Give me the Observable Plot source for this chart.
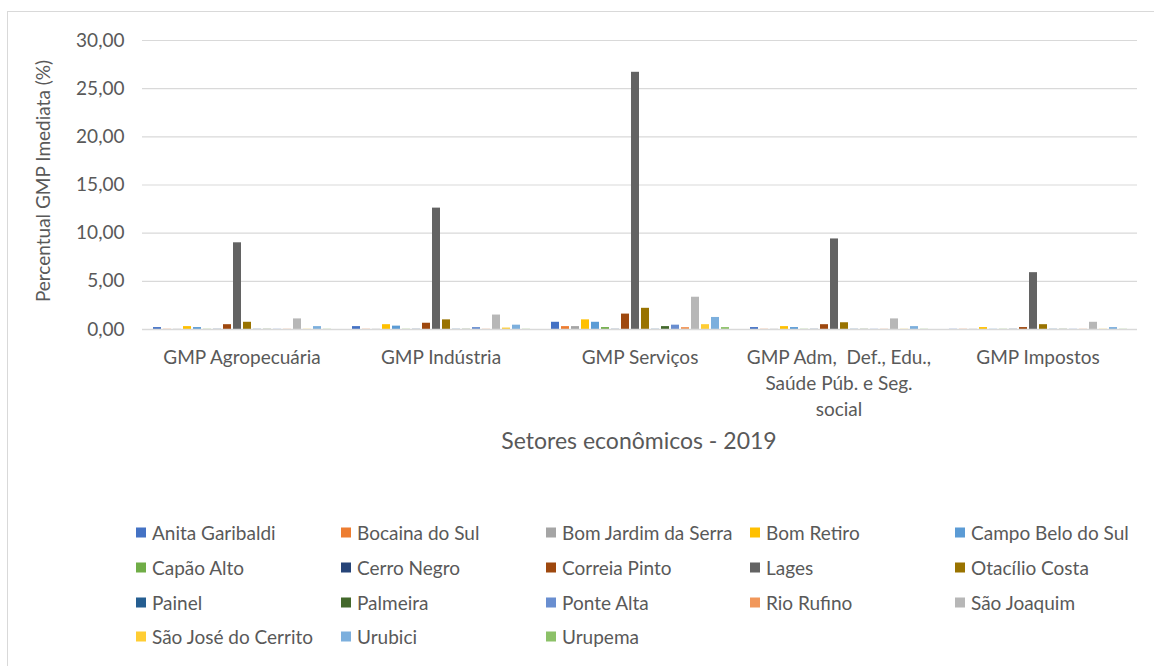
<!DOCTYPE html>
<html>
<head>
<meta charset="utf-8">
<script src="https://cdn.jsdelivr.net/npm/d3@7"></script>
<script src="https://cdn.jsdelivr.net/npm/@observablehq/plot@0.6"></script>
<style>
  html, body { margin: 0; padding: 0; background: #fff; overflow: hidden; }
  body { width: 1154px; height: 666px; position: relative; font-family: Lato, "Open Sans", sans-serif; color: #595959; }
  #frame { position: absolute; left: 7px; top: 11px; width: 1200px; height: 700px; border: 1.5px solid #d9d9d9; box-sizing: border-box; }
  #chart { position: absolute; left: 0; top: 0; }
  #ytitle { position: absolute; left: 42px; top: 181px; transform: translate(-50%, -50%) rotate(-90deg); white-space: nowrap; font-size: 19px; }
  #xtitle { position: absolute; left: 639px; top: 440px; transform: translate(-50%, -50%); white-space: nowrap; font-size: 23px; }
  #legend { position: absolute; left: 0; top: 0; }
  .li { position: absolute; display: flex; align-items: center; font-size: 19px; white-space: nowrap; transform: translateY(-50%); }
  .sw { width: 10px; height: 10px; margin-right: 6px; display: inline-block; }
</style>
</head>
<body>
<div id="frame"></div>
<div id="chart"></div>
<div id="ytitle">Percentual GMP Imediata (%)</div>
<div id="xtitle">Setores econômicos - 2019</div>
<div id="legend"></div>
<script>
const sectors = ["GMP Agropecuária", "GMP Indústria", "GMP Serviços", "GMP Adm,  Def., Edu., Saúde Púb. e Seg. social", "GMP Impostos"];
const sectorLabels = ["GMP Agropecuária", "GMP Indústria", "GMP Serviços", "GMP Adm,  Def., Edu.,\nSaúde Púb. e Seg.\nsocial", "GMP Impostos"];
const municipalities = ["Anita Garibaldi", "Bocaina do Sul", "Bom Jardim da Serra", "Bom Retiro", "Campo Belo do Sul",
  "Capão Alto", "Cerro Negro", "Correia Pinto", "Lages", "Otacílio Costa",
  "Painel", "Palmeira", "Ponte Alta", "Rio Rufino", "São Joaquim",
  "São José do Cerrito", "Urubici", "Urupema"];
const colors = ["#4472C4", "#ED7D31", "#A5A5A5", "#FFC000", "#5B9BD5",
  "#70AD47", "#264478", "#9E480E", "#636363", "#997300",
  "#255E91", "#43682B", "#698ED0", "#F1975A", "#B7B7B7",
  "#FFCD33", "#7CAFDD", "#8CC168"];

const agropecuaria = [0.2, 0.02, 0.02, 0.3, 0.2, 0.02, 0.02, 0.5, 9.0, 0.75, 0.02, 0.02, 0.02, 0.02, 1.1, 0.02, 0.3, 0.02];
const industria    = [0.3, 0.02, 0.02, 0.5, 0.35, 0.02, 0.02, 0.65, 12.6, 1.0, 0.02, 0.02, 0.2, 0.02, 1.5, 0.15, 0.45, 0.02];
const servicos     = [0.75, 0.3, 0.3, 1.0, 0.75, 0.2, 0.02, 1.6, 26.7, 2.2, 0.02, 0.3, 0.45, 0.2, 3.35, 0.5, 1.25, 0.2];
const administracao = [0.2, 0.02, 0.02, 0.3, 0.2, 0.02, 0.02, 0.5, 9.4, 0.7, 0.02, 0.02, 0.02, 0.02, 1.1, 0.02, 0.3, 0.02];
const impostos     = [0.02, 0.02, 0.02, 0.2, 0.02, 0.02, 0.02, 0.2, 5.9, 0.5, 0.02, 0.02, 0.02, 0.02, 0.75, 0.02, 0.2, 0.02];
const yTicks = [0, 5, 10, 15, 20, 25, 30];

const seriesBySector = [agropecuaria, industria, servicos, administracao, impostos];
const data = [];
sectors.forEach((s, i) => {
  municipalities.forEach((m, j) => data.push({sector: s, municipality: m, value: seriesBySector[i][j]}));
});

const labelOf = new Map(sectors.map((s, i) => [s, sectorLabels[i]]));

const chart = Plot.plot({
  width: 1154,
  height: 460,
  marginTop: 40,
  marginLeft: 140,
  marginRight: 16,
  marginBottom: 131,
  style: {fontFamily: "Lato, 'Open Sans', sans-serif", fontSize: "19px", color: "#595959", background: "transparent"},
  fx: {domain: sectors, padding: 0, label: null},
  x: {domain: municipalities, paddingInner: 0.2, paddingOuter: 0.85, axis: null},
  y: {domain: [0, 30], label: null},
  color: {domain: municipalities, range: colors},
  marks: [
    Plot.ruleY(yTicks.slice(1), {stroke: "#d9d9d9", strokeWidth: 1.2}),
    Plot.barY(data, {fx: "sector", x: "municipality", y: "value", fill: "municipality"}),
    Plot.ruleY([0], {stroke: "#d9d9d9", strokeWidth: 1.5}),
    Plot.axisY({ticks: yTicks, tickSize: 0, tickPadding: 18, tickFormat: d => d.toFixed(2).replace(".", ","), label: null, fill: "#595959", fontSize: 19}),
    Plot.axisFx({anchor: "bottom", tickSize: 0, tickPadding: 16, tickFormat: d => labelOf.get(d), label: null, lineHeight: 1.37, fill: "#595959", fontSize: 19})
  ]
});
document.getElementById("chart").appendChild(chart);

const legend = document.getElementById("legend");
const colX = [136, 341, 546, 750, 955];
const rowY = [532, 567, 602, 636];
municipalities.forEach((m, i) => {
  const d = document.createElement("div");
  d.className = "li";
  d.style.left = colX[i % 5] + "px";
  d.style.top = rowY[Math.floor(i / 5)] + "px";
  const sw = document.createElement("span");
  sw.className = "sw";
  sw.style.background = colors[i];
  d.appendChild(sw);
  d.appendChild(document.createTextNode(m));
  legend.appendChild(d);
});
</script>
</body>
</html>
